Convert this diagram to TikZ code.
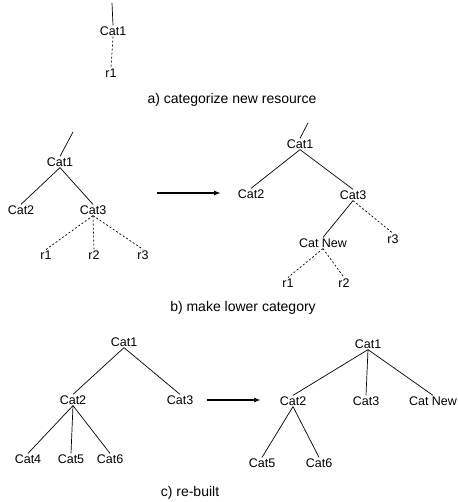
\documentclass[tikz,border=0pt]{standalone}
\usepackage{fontspec}
\setmainfont{Liberation Sans}
\usetikzlibrary{arrows.meta, positioning}

\begin{document}
\begin{tikzpicture}[
    x=1pt, y=-1pt,
    cat/.style={inner sep=1pt, font=\fontsize{12.5}{14}\selectfont},
    caption/.style={inner sep=0pt, font=\fontsize{14}{16}\selectfont},
    edge/.style={draw, line width=0.7pt},
    link/.style={draw, line width=0.7pt, dash pattern=on 2pt off 2pt},
    line/.style={draw, line width=1.4pt, -{Latex[length=7pt, width=5pt]}}
]
\useasboundingbox (0,0) rectangle (457,502);

% a) categorize new resource
\coordinate (atop) at (112,3);
\node[cat] (acat1) at (113,31) {Cat1};
\node[cat] (ar1) at (111,73) {r1};
\node[caption] (acap) at (232,100) {a) categorize new resource};
\draw[edge] (atop) -- (acat1.north);
\draw[link] (acat1.south) -- (ar1.north);

% b) make lower category, before
\coordinate (btop) at (73,132);
\node[cat] (bcat1) at (60,162) {Cat1};
\node[cat] (bcat2) at (21,210) {Cat2};
\node[cat] (bcat3) at (93,210) {Cat3};
\foreach \i/\x in {1/46,2/94,3/143}
    \node[cat] (br\i) at (\x,255) {r\i};
\draw[edge] (btop) -- (bcat1.north);
\draw[edge] (bcat1.south) -- (bcat2.north);
\draw[edge] (bcat1.south) -- (bcat3.north);
\foreach \i in {1,2,3}
    \draw[link] (bcat3.south) -- (br\i.north);

% b) make lower category, after
\coordinate (ctop) at (308,123);
\node[cat] (ccat1) at (300,144) {Cat1};
\node[cat] (ccat2) at (251,194) {Cat2};
\node[cat] (ccat3) at (353,195) {Cat3};
\node[cat] (cnew) at (323,243) {Cat New};
\node[cat] (cr3) at (393,239) {r3};
\node[cat] (cr1) at (288,283) {r1};
\node[cat] (cr2) at (344,283) {r2};
\draw[edge] (ctop) -- (ccat1.north);
\draw[edge] (ccat1.south) -- (ccat2.north);
\draw[edge] (ccat1.south) -- (ccat3.north);
\draw[edge] (ccat3.south) -- (cnew.north);
\draw[link] (ccat3.south) -- (cr3.north);
\draw[link] (cnew.south) -- (cr1.north);
\draw[link] (cnew.south) -- (cr2.north);
\node[caption] (bcap) at (243,308) {b) make lower category};

\coordinate (barrow1) at (157,193);
\coordinate (barrow2) at (221,193);
\draw[line] (barrow1) -- (barrow2);

% c) re-built, before
\node[cat] (dcat1) at (124,342) {Cat1};
\node[cat] (dcat2) at (73,400) {Cat2};
\node[cat] (dcat3) at (180,400) {Cat3};
\foreach \i/\x in {4/28,5/71,6/110}
    \node[cat] (dcat\i) at (\x,459) {Cat\i};
\draw[edge] (dcat1.south) -- (dcat2.north);
\draw[edge] (dcat1.south) -- (dcat3.north);
\foreach \i in {4,5,6}
    \draw[edge] (dcat2.south) -- (dcat\i.north);

% c) re-built, after
\node[cat] (ecat1) at (368,344) {Cat1};
\node[cat] (ecat2) at (293,401) {Cat2};
\node[cat] (ecat3) at (366,401) {Cat3};
\node[cat] (enew) at (433,401) {Cat New};
\node[cat] (ecat5) at (262,463) {Cat5};
\node[cat] (ecat6) at (319,463) {Cat6};
\foreach \n in {ecat2,ecat3,enew}
    \draw[edge] (ecat1.south) -- (\n.north);
\foreach \n in {ecat5,ecat6}
    \draw[edge] (ecat2.south) -- (\n.north);
\node[caption] (ccap) at (190,493) {c) re-built};

\coordinate (carrow1) at (207,400);
\coordinate (carrow2) at (261,400);
\draw[line] (carrow1) -- (carrow2);

\end{tikzpicture}
\end{document}
